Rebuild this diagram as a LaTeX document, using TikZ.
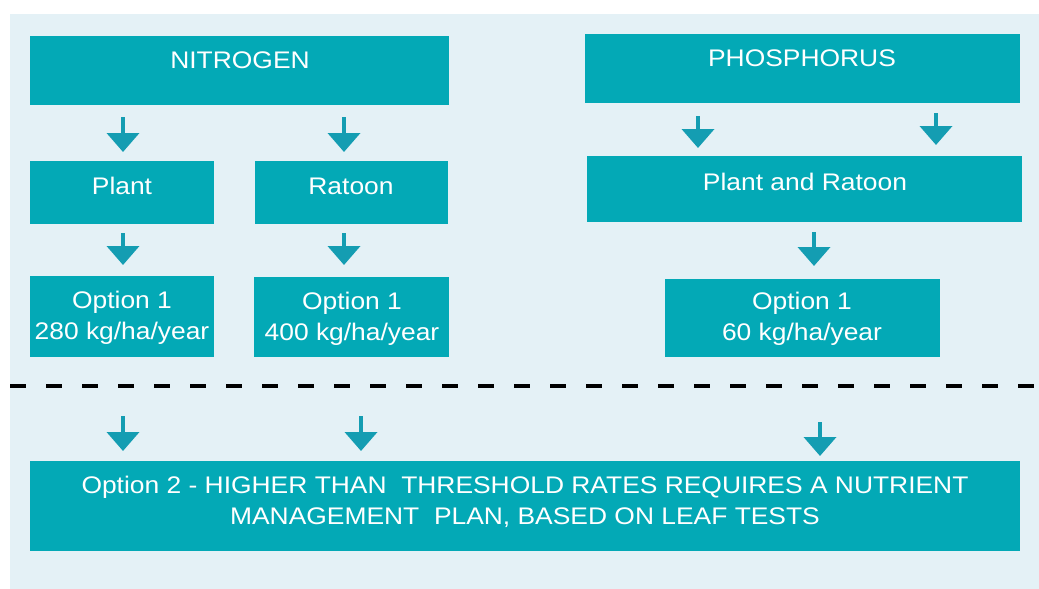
\documentclass[tikz,border=0pt]{standalone}
\usepackage{fontspec}
\setmainfont[FakeStretch=1.1]{Liberation Sans}
\usetikzlibrary{arrows.meta,calc}
\definecolor{bgc}{HTML}{E4F1F6}
\definecolor{boxc}{HTML}{03A9B6}
\definecolor{arrc}{HTML}{149DB2}
\begin{document}
\begin{tikzpicture}[x=1pt,y=-1pt,
  box/.style={fill=boxc, inner sep=0pt, outer sep=0pt, anchor=north west},
  txt/.style={text=white, font=\fontsize{24}{31}\selectfont, align=center, inner sep=0pt},
  arr/.style={draw=arrc, line width=4pt, -{Triangle[width=32pt,length=19pt]}},
  sep/.style={draw=black, line width=4.5pt, dash pattern=on 16pt off 20pt}]
\useasboundingbox (0,0) rectangle (1039,589);
\fill[bgc] (10,14) rectangle (1039,589);
% boxes
\node[box, minimum width=419pt, minimum height=69pt] (nit) at (30,36) {};
\node[box, minimum width=435pt, minimum height=69pt] (pho) at (585,34) {};
\node[box, minimum width=184pt, minimum height=63pt] (plant) at (30,161) {};
\node[box, minimum width=193pt, minimum height=63pt] (ratoon) at (255,161) {};
\node[box, minimum width=435pt, minimum height=66pt] (pr) at (587,156) {};
\node[box, minimum width=184pt, minimum height=81pt] (o280) at (30,276) {};
\node[box, minimum width=195pt, minimum height=80pt] (o400) at (254,277) {};
\node[box, minimum width=275pt, minimum height=78pt] (o60) at (665,279) {};
\node[box, minimum width=990pt, minimum height=90pt] (opt2) at (30,461) {};
% texts
\node[txt] (tnit) at (240,60) {NITROGEN};
\node[txt] (tpho) at (802,58) {PHOSPHORUS};
\node[txt] (tplant) at (122,186) {Plant};
\node[txt] (tratoon) at (351,186) {Ratoon};
\node[txt] (tpr) at (805,182) {Plant and Ratoon};
\node[txt] (t280) at (122,318) {Option 1\\280 kg/ha/year};
\node[txt] (t400) at (352,319) {Option 1\\400 kg/ha/year};
\node[txt] (t60) at (802,319) {Option 1\\60 kg/ha/year};
\node[txt] (topt2) at (525,502) {Option 2 - HIGHER THAN\ \ THRESHOLD RATES REQUIRES A NUTRIENT\\MANAGEMENT\ \ PLAN, BASED ON LEAF TESTS};
% arrow columns
\coordinate (c1) at (123,0);
\coordinate (c2) at (344,0);
\coordinate (c3) at (698,0);
\coordinate (c4) at (936,0);
\coordinate (c5) at (814,0);
% arrows
\draw[arr] ([yshift=-12pt]nit.south -| c1) -- ([yshift=9pt]plant.north -| c1);
\draw[arr] ([yshift=-12pt]nit.south -| c2) -- ([yshift=9pt]ratoon.north -| c2);
\draw[arr] ([yshift=-9pt]plant.south -| c1) -- ([yshift=11pt]o280.north -| c1);
\draw[arr] ([yshift=-9pt]ratoon.south -| c2) -- ([yshift=12pt]o400.north -| c2);
\draw[arr] ([yshift=-13pt]pho.south -| c3) -- ([yshift=8pt]pr.north -| c3);
\draw[arr] ([yshift=-10pt]pho.south -| c4) -- ([yshift=11pt]pr.north -| c4);
\draw[arr] ([yshift=-10pt]pr.south -| c5) -- ([yshift=13pt]o60.north -| c5);
% separator
\coordinate (sl) at (10,386);
\coordinate (sr) at (1039,386);
\draw[sep] (sl) -- (sr);
% bottom arrows
\coordinate (b1) at (123,416);
\coordinate (b2) at (361,416);
\coordinate (b3) at (820,422);
\draw[arr] (b1) -- ([yshift=10pt]opt2.north -| b1);
\draw[arr] (b2) -- ([yshift=10pt]opt2.north -| b2);
\draw[arr] (b3) -- ([yshift=5pt]opt2.north -| b3);
\end{tikzpicture}
\end{document}
